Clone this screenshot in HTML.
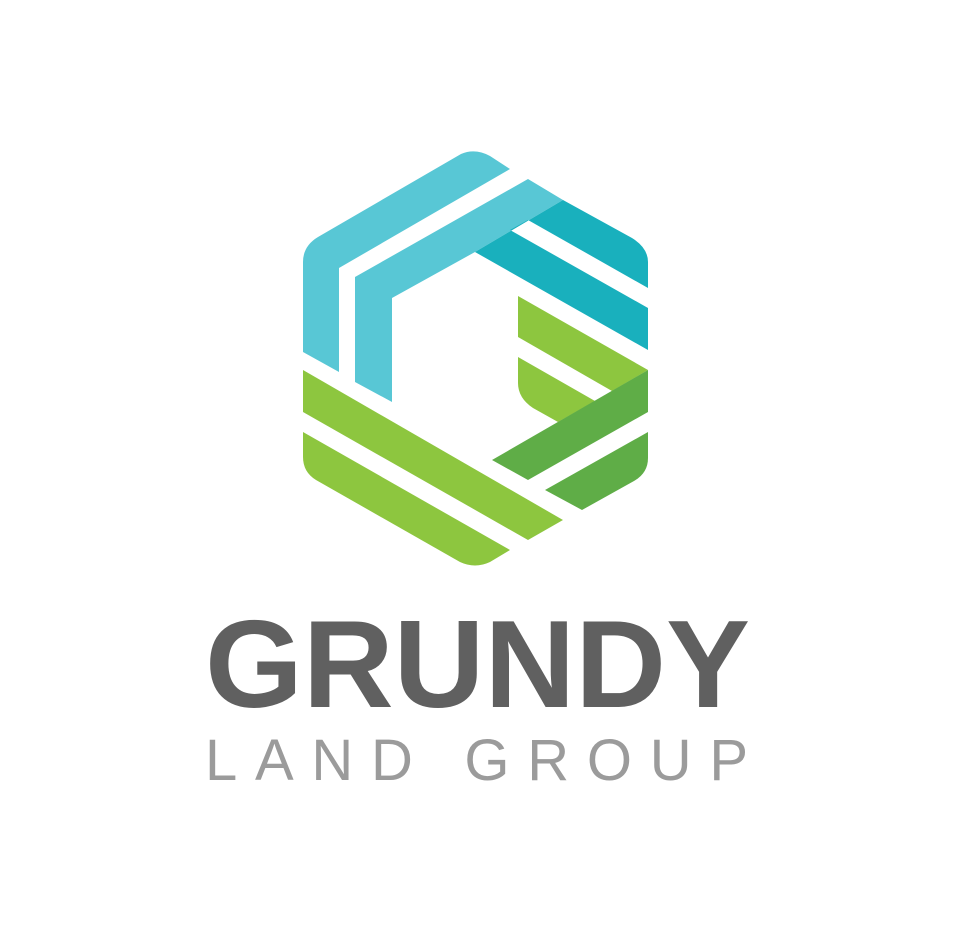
<!DOCTYPE html>
<html><head><meta charset="utf-8"><style>
html,body{margin:0;padding:0;background:#fff;}
svg{display:block;}
</style></head><body>
<svg width="956" height="944" viewBox="0 0 956 944">
<g stroke-linejoin="round">
<path fill="#58c7d5" d="M461,154 Q475,148 490,156 L510,169 L339,268 L339,372 L303,352 L303,262 Q303,246 318,237 Z"/>
<path fill="#58c7d5" d="M528,179 L563,200 L475,252 L392,298 L392,402 L355,382 L355,277 Z"/>
<path fill="#19b0bd" d="M563,200 L632,238 Q648,248 648,262 L648,288 L528,220 L510,230 L648,308 L648,350 L475,252 Z"/>
<path fill="#8dc63f" d="M518,296 L648,370 L612,391 L518,337 Z"/>
<path fill="#8dc63f" d="M518,357 L595,401 L558,422 L533,408 Q518,398 518,383 Z"/>
<path fill="#5fad47" d="M492,460 L648,370 L648,412 L528,480 Z"/>
<path fill="#5fad47" d="M545,490 L648,432 L648,458 Q648,473 634,481 L582,510 Z"/>
<path fill="#8dc63f" d="M303,370 L563,520 L528,540 L303,412 Z"/>
<path fill="#8dc63f" d="M303,432 L510,550 L490,562 Q475,569 460,562 L316,480 Q303,472 303,457 Z"/>
</g>
<text x="205" y="707" font-family="Liberation Sans, sans-serif" font-weight="bold" font-size="124" fill="#606060" textLength="545" lengthAdjust="spacingAndGlyphs">GRUNDY</text>
<text x="205" y="780" font-family="Liberation Sans, sans-serif" font-size="58" fill="#9b9b9b" textLength="543" lengthAdjust="spacing">LAND GROUP</text>
</svg>
</body></html>
